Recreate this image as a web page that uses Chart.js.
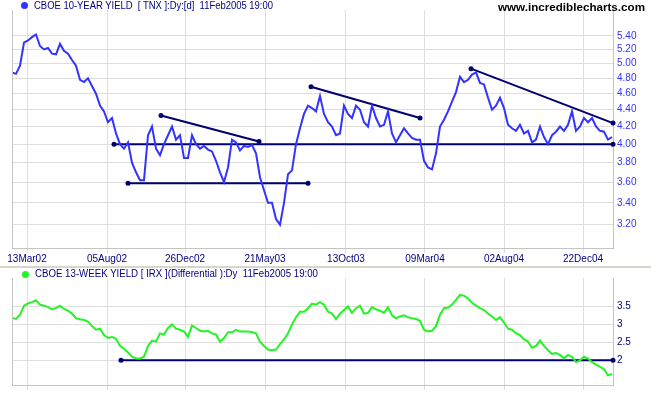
<!DOCTYPE html>
<html>
<head>
<meta charset="utf-8">
<script src="https://cdn.jsdelivr.net/npm/chart.js@4.4.0/dist/chart.umd.min.js"></script>
<style>
  body { margin: 0; background: #fff; width: 651px; height: 395px; overflow: hidden; position: relative; font-family: "Liberation Sans", Arial, sans-serif; }
  canvas { position: absolute; left: 0; }
  #topChart { top: 0; }
  #botChart { top: 268px; }
  .title { position: absolute; font-size: 10px; line-height: 12px; color: #000080; white-space: pre; transform-origin: left center; }
  .dot { position: absolute; width: 7px; height: 7px; border-radius: 50%; }
  #sep { position: absolute; left: 0; top: 266px; width: 651px; height: 2px; background: #d8d5cc; }
  #site { font-weight: bold; font-size: 11px; color: #000; }
</style>
</head>
<body>
<canvas id="topChart" width="651" height="266"></canvas>
<div id="sep"></div>
<canvas id="botChart" width="651" height="127"></canvas>

<div class="dot" style="left:21px; top:2px; background:#3333ff"></div>
<div class="title" id="t1" style="left:34px; top:0px">CBOE 10-YEAR YIELD  [ TNX ]:Dy:[d]  11Feb2005 19:00</div>
<div class="title" id="site" style="left:498px; top:1px">www.incrediblecharts.com</div>
<div class="dot" style="left:22px; top:271px; background:#22f522"></div>
<div class="title" id="t2" style="left:35px; top:268px">CBOE 13-WEEK YIELD [ IRX ](Differential ):Dy  11Feb2005 19:00</div>

<script>
// weekly samples (one every ~5 trading days)
let tnx = [
    4.88, 4.86, 4.97, 5.30, 5.33, 5.38, 5.42, 5.25, 5.20, 5.22,
    5.14, 5.13, 5.28, 5.18, 5.14, 5.05, 4.97, 4.78, 4.75, 4.80,
    4.70, 4.60, 4.45, 4.38, 4.25, 4.30, 4.12, 4.00, 3.95, 4.02,
    3.80, 3.70, 3.62, 3.62, 4.10, 4.20, 3.95, 3.88, 4.00, 4.10,
    4.20, 4.05, 4.10, 3.85, 3.85, 4.10, 4.00, 3.95, 3.98, 3.94,
    3.92, 3.82, 3.70, 3.60, 3.75, 4.05, 4.02, 3.93, 3.98, 3.97,
    3.99, 3.90, 3.65, 3.52, 3.40, 3.40, 3.25, 3.20, 3.40, 3.68,
    3.72, 4.00, 4.18, 4.35, 4.45, 4.42, 4.38, 4.57, 4.35, 4.25,
    4.20, 4.10, 4.12, 4.45, 4.35, 4.30, 4.45, 4.40, 4.25, 4.20,
    4.45, 4.30, 4.20, 4.22, 4.38, 4.12, 4.02, 4.10, 4.18, 4.12,
    4.07, 4.05, 4.05, 3.82, 3.75, 3.73, 3.90, 4.20, 4.28, 4.38,
    4.50, 4.62, 4.82, 4.75, 4.78, 4.85, 4.88, 4.74, 4.72, 4.55,
    4.40, 4.45, 4.55, 4.42, 4.22, 4.18, 4.15, 4.22, 4.12, 4.15,
    4.02, 4.05, 4.20, 4.08, 4.00, 4.10, 4.14, 4.20, 4.15, 4.22,
    4.38, 4.15, 4.20, 4.30, 4.25, 4.30, 4.20, 4.15, 4.14, 4.05,
    4.08
]

let irx = [
    3.18, 3.15, 3.27, 3.52, 3.58, 3.62, 3.67, 3.55, 3.52, 3.48,
    3.42, 3.45, 3.52, 3.43, 3.38, 3.30, 3.17, 3.14, 3.12, 3.08,
    2.95, 2.85, 2.88, 2.70, 2.62, 2.65, 2.60, 2.40, 2.32, 2.22,
    2.10, 2.05, 2.05, 2.10, 2.40, 2.55, 2.52, 2.75, 2.72, 2.90,
    3.00, 2.88, 2.85, 2.80, 2.65, 2.97, 2.90, 2.82, 2.80, 2.82,
    2.75, 2.72, 2.52, 2.62, 2.78, 2.78, 2.85, 2.80, 2.80, 2.80,
    2.78, 2.75, 2.52, 2.40, 2.30, 2.28, 2.30, 2.45, 2.58, 2.75,
    3.00, 3.20, 3.35, 3.35, 3.45, 3.58, 3.55, 3.62, 3.55, 3.35,
    3.30, 3.15, 3.30, 3.40, 3.50, 3.32, 3.45, 3.52, 3.30, 3.32,
    3.48, 3.42, 3.38, 3.32, 3.48, 3.25, 3.17, 3.22, 3.25, 3.20,
    3.17, 3.15, 3.10, 2.85, 2.80, 2.82, 2.95, 3.27, 3.45, 3.47,
    3.55, 3.68, 3.82, 3.80, 3.72, 3.60, 3.52, 3.45, 3.40, 3.30,
    3.22, 3.12, 3.20, 3.05, 2.88, 2.85, 2.75, 2.70, 2.58, 2.52,
    2.35, 2.40, 2.55, 2.40, 2.28, 2.18, 2.20, 2.15, 2.05, 2.15,
    2.10, 1.95, 2.00, 2.10, 2.05, 1.95, 1.88, 1.82, 1.75, 1.58,
    1.62
]

// x tick labels and their week positions
let xLabels = ['13Mar02', '05Aug02', '26Dec02', '21May03', '13Oct03', '09Mar04', '02Aug04', '22Dec04']
let xTickPos = [3.75, 23.75, 43.25, 63.25, 83.5, 103.25, 123, 142.75]
let xMax = 150.25

let tnxTicks = [3.2, 3.4, 3.6, 3.8, 4.0, 4.2, 4.4, 4.6, 4.8, 5.0, 5.2, 5.4]
let irxTicks = [2, 2.5, 3, 3.5]

// trendlines: [start, end] in weeks and yield
let tnxLineX = [[25.5, 150.25], [29, 74], [37.25, 61.75], [74.75, 102], [114.75, 150.25]]
let tnxLineY = [[4.00, 4.00], [3.59, 3.59], [4.33, 4.03], [4.69, 4.30], [4.93, 4.24]]
let irxLineX = [[27.25, 150.25]]
let irxLineY = [[2.0, 2.0]]

let gridColour = '#dedede'
let axisColour = '#c4c4c4'
let navy = '#00006e'
let font = { family: '"Liberation Sans", Arial, sans-serif', size: 10 }

let leftBorder = {
    id: 'leftBorder',
    afterDraw(chart) {
        let { ctx, chartArea } = chart
        ctx.save()
        ctx.strokeStyle = axisColour
        ctx.lineWidth = 1
        ctx.beginPath()
        ctx.moveTo(chartArea.left + 0.5, chartArea.top)
        ctx.lineTo(chartArea.left + 0.5, chartArea.bottom)
        ctx.stroke()
        ctx.restore()
    }
}

let trendSets = (xs, ys) => xs.map((x, i) => ({
    data: [{ x: x[0], y: ys[i][0] }, { x: x[1], y: ys[i][1] }],
    borderColor: navy, backgroundColor: navy, borderWidth: 2,
    pointRadius: 2.5, pointBorderWidth: 0, pointBackgroundColor: navy,
    clip: false, order: 1
}))

function makeChart(canvas, series, colour, lineX, lineY, yAxis, xAxisHeight, showLabels, padTop) {
    return new Chart(canvas, {
        type: 'line',
        data: {
            datasets: [{
                data: series.map((v, i) => ({ x: i, y: v })),
                borderColor: colour, borderWidth: 2, pointRadius: 0, tension: 0, order: 0
            }, ...trendSets(lineX, lineY)]
        },
        options: {
            responsive: false,
            animation: false,
            layout: { padding: { left: 12, top: padTop, right: 0, bottom: 0 } },
            plugins: { legend: { display: false }, tooltip: { enabled: false } },
            scales: {
                x: {
                    type: 'linear', min: 0, max: xMax, bounds: 'data',
                    afterBuildTicks: (s) => { s.ticks = xTickPos.map(v => ({ value: v })) },
                    afterFit: (s) => { s.height = xAxisHeight },
                    grid: { color: gridColour, tickLength: 5, drawTicks: true },
                    border: { color: axisColour },
                    ticks: {
                        display: showLabels, autoSkip: false, maxRotation: 0, padding: 0,
                        color: '#000080', font: font,
                        callback: (v, i) => xLabels[i]
                    }
                },
                y: yAxis
            }
        },
        plugins: [leftBorder]
    })
}

makeChart(document.getElementById('topChart'), tnx, '#3333ff', tnxLineX, tnxLineY, {
    type: 'logarithmic', position: 'right', min: 3.0, max: 5.8, bounds: 'data',
    afterBuildTicks: (s) => { s.ticks = tnxTicks.map(v => ({ value: v })) },
    afterFit: (s) => { s.width = 38 },
    grid: { color: gridColour, drawTicks: false },
    border: { color: axisColour },
    ticks: { color: '#3333ff', font: font, padding: 4, callback: (v) => Number(v).toFixed(2) }
}, 18, true, 10)

makeChart(document.getElementById('botChart'), irx, '#22f522', irxLineX, irxLineY, {
    type: 'linear', position: 'right', min: 1.313, max: 4.29, bounds: 'data',
    afterBuildTicks: (s) => { s.ticks = irxTicks.map(v => ({ value: v })) },
    afterFit: (s) => { s.width = 38 },
    grid: { color: gridColour, drawTicks: false },
    border: { color: axisColour },
    ticks: { color: '#000080', font: font, padding: 4, callback: (v) => String(v) }
}, 8, false, 2)

// squeeze the header texts to the widths they take in the original
function fit(id, w) {
    let el = document.getElementById(id)
    let r = el.getBoundingClientRect().width
    el.style.transform = `scaleX(${w / r})`
}
fit('t1', 239)
fit('t2', 283)
fit('site', 147)
</script>
</body>
</html>
